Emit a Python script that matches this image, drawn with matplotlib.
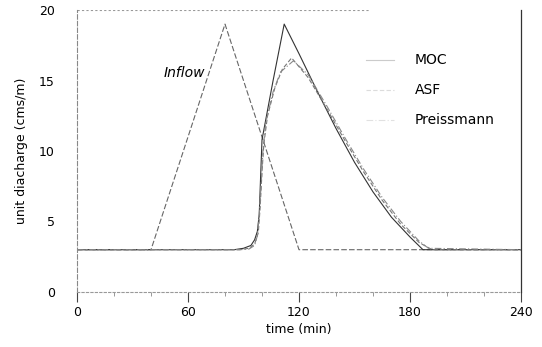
import matplotlib
matplotlib.use("Agg")
import matplotlib.pyplot as plt
from matplotlib.ticker import MultipleLocator

# inflow hydrograph (triangular)
t_inflow = [0, 40, 80, 120, 240]
q_inflow = [3, 3, 19, 3, 3]

# outflow - method of characteristics
t_moc = [0, 85, 90, 94, 96, 97.5, 98.5, 99.2, 100, 106, 112, 120, 130, 140,
         150, 160, 170, 180, 187, 240]
q_moc = [3, 3, 3.1, 3.3, 3.7, 4.3, 5.5, 8, 10.8, 15, 19, 16.9, 14.2, 11.6,
         9.2, 7.1, 5.3, 3.9, 3, 3]

# outflow - ASF
t_asf = [0, 88, 93, 96, 98, 99, 100, 101, 103, 107, 111, 116, 125, 135,
         145, 155, 165, 175, 185, 192, 240]
q_asf = [3, 3, 3.1, 3.4, 4.2, 6, 8.5, 10.5, 12.5, 14.5, 15.8, 16.6, 15.2, 13,
         10.7, 8.5, 6.5, 4.8, 3.5, 3, 3]

# outflow - Preissmann
t_pre = [0, 88, 93, 96, 97.5, 98.5, 99.5, 100.5, 102, 106, 110, 117, 125, 135,
         145, 155, 165, 175, 185, 190, 240]
q_pre = [3, 3, 3.05, 3.3, 4.0, 5.5, 7.5, 10.0, 12.0, 14.2, 15.6, 16.4, 15.4, 13.2,
         10.9, 8.7, 6.7, 5.0, 3.6, 3.1, 3]

x_ticks = [0, 60, 120, 180, 240]
y_ticks = [0, 5, 10, 15, 20]

fig = plt.figure(figsize=(5.42, 3.47), dpi=100)
ax = fig.add_axes([77 / 542, 1 - 292 / 347, 444 / 542, 282 / 347])

ax.plot(t_inflow, q_inflow, color="#666666", lw=0.8, ls=(0, (5, 2)))
l1, = ax.plot(t_moc, q_moc, color="#333333", lw=0.8, ls="-", label="MOC")
l2, = ax.plot(t_asf, q_asf, color="#777777", lw=0.8, ls=(0, (4, 2)), label="ASF")
l3, = ax.plot(t_pre, q_pre, color="#888888", lw=0.8, ls=(0, (6, 2, 1, 2)), label="Preissmann")

ax.text(58, 15.5, "Inflow", style="italic", fontsize=10, ha="center", va="center")

leg = ax.legend(handles=[l1, l2, l3], loc="upper left", bbox_to_anchor=(0.651, 0.846),
                frameon=False, fontsize=10, handlelength=2, handletextpad=1.5,
                labelspacing=1.15, borderpad=0, borderaxespad=0)
for h in leg.get_lines():
    h.set_alpha(0.25)

ax.set_xlim(0, 240)
ax.set_ylim(0, 20)
ax.set_xticks(x_ticks)
ax.set_yticks(y_ticks)
ax.xaxis.set_minor_locator(MultipleLocator(20))
ax.tick_params(axis="x", which="major", direction="out", length=7, width=0.8,
               color="#444444", pad=3, labelsize=9)
ax.tick_params(axis="x", which="minor", direction="out", length=3, width=0.6,
               color="#888888")
ax.tick_params(axis="y", which="major", length=0, pad=16, labelsize=9)

ax.spines["top"].set_visible(False)
ax.spines["left"].set_color("#888888")
ax.spines["left"].set_linestyle((0, (4, 2)))
ax.spines["left"].set_linewidth(0.8)
ax.spines["bottom"].set_color("#999999")
ax.spines["bottom"].set_linestyle((0, (2, 2)))
ax.spines["bottom"].set_linewidth(0.8)
ax.spines["right"].set_color("#333333")
ax.spines["right"].set_linewidth(0.9)
ax.axhline(20, xmin=0, xmax=0.66, color="#999999", lw=0.8, ls=(0, (2, 2)))

ax.set_xlabel("time (min)", fontsize=9, labelpad=3)
ax.set_ylabel("unit diacharge (cms/m)", fontsize=9, labelpad=8)

fig.savefig("out.png", dpi=100)
